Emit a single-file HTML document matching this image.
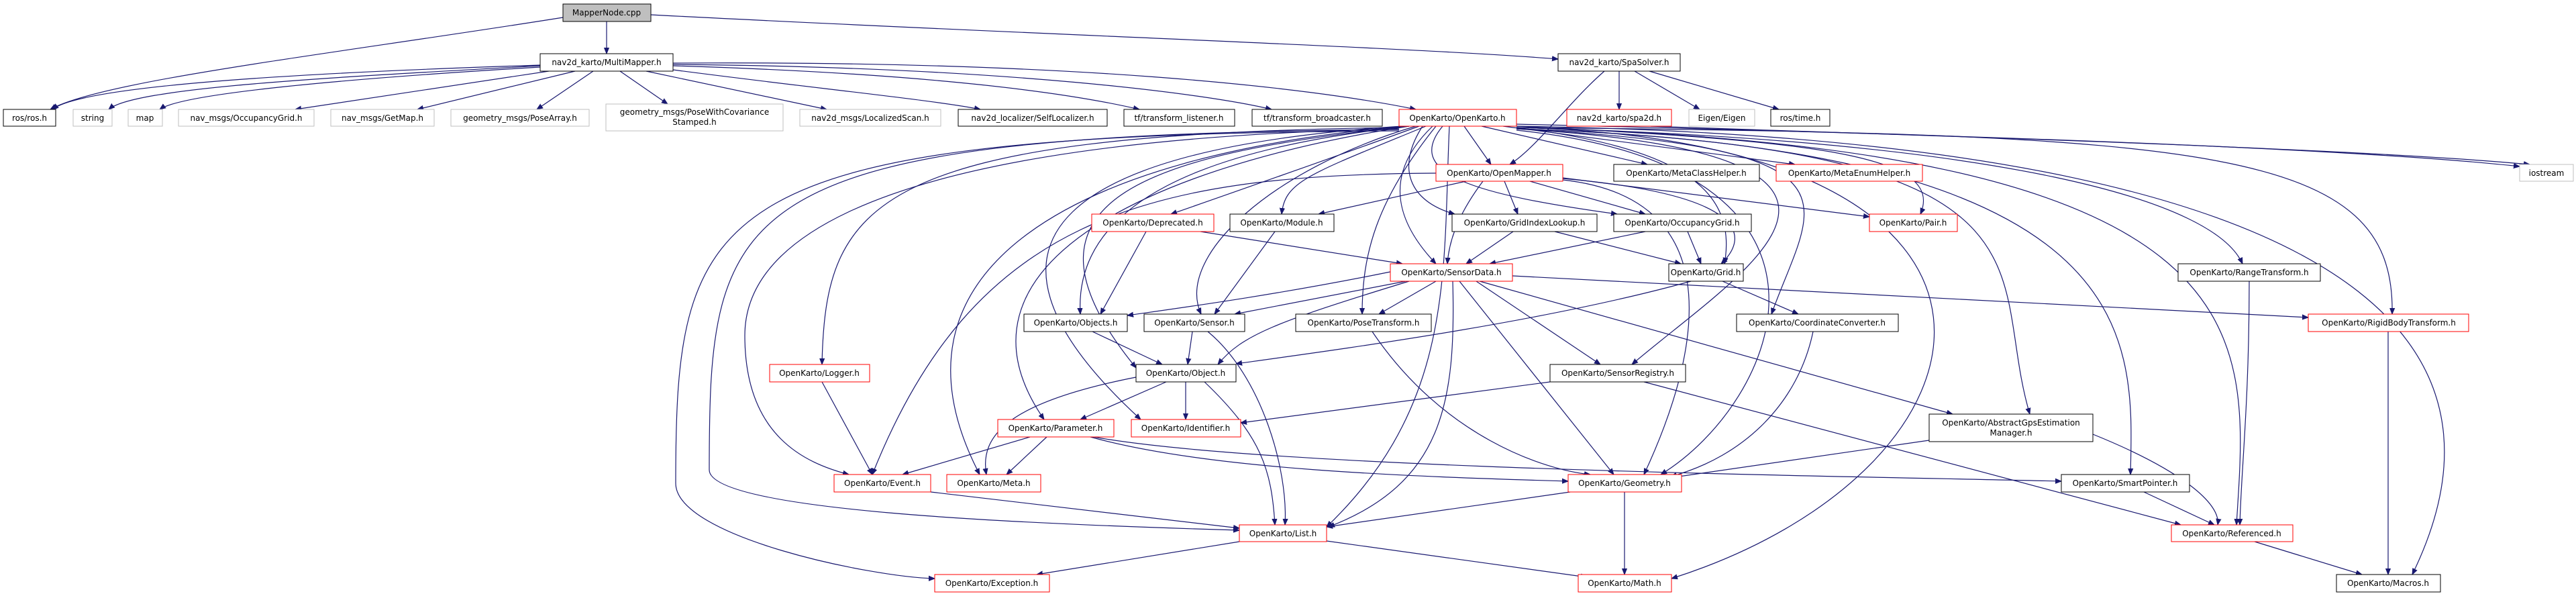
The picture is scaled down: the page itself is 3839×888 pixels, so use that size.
<!DOCTYPE html>
<html><head><meta charset="utf-8"><style>
html,body{margin:0;padding:0;background:#fff;}
svg{display:block;}
text{font-family:"DejaVu Sans","Liberation Sans",sans-serif;font-size:12px;fill:#000;}
.e{fill:none;stroke:#191970;stroke-width:1.2;}
.b{fill:#fff;stroke:#000;stroke-width:1;}
.r{fill:#fff;stroke:#ff0000;stroke-width:1;}
.g{fill:#fff;stroke:#bfbfbf;stroke-width:1;}
</style></head><body>
<svg width="3839" height="888" viewBox="0 0 3839 888" xmlns="http://www.w3.org/2000/svg">
<defs><marker id="a" viewBox="0 0 10 10" refX="10" refY="5" markerWidth="9" markerHeight="9" markerUnits="userSpaceOnUse" orient="auto"><path d="M0,1 L10,5 L0,9 z" fill="#191970" stroke="#191970"/></marker></defs>
<g class="e" marker-end="url(#a)">
<path d="M839,26 C500,80 150,120 75,163"/>
<path d="M904,32 L904,80"/>
<path d="M970,22 C1500,50 2100,70 2322,88"/>
<path d="M805,97 C400,110 120,130 78,163"/>
<path d="M805,98 C500,115 200,130 162,163"/>
<path d="M805,100 C500,118 270,140 238,163"/>
<path d="M818,106 L440,163"/>
<path d="M857,106 L622,163"/>
<path d="M884,106 L800,163"/>
<path d="M924,106 L995,155"/>
<path d="M963,106 L1232,163"/>
<path d="M1003,104 C1200,130 1400,150 1461,163"/>
<path d="M1003,98 C1400,110 1600,140 1698,163"/>
<path d="M1003,96 C1500,100 1800,140 1895,163"/>
<path d="M1003,94 C1600,90 1950,130 2110,163"/>
<path d="M2391,106 C2340,150 2290,220 2250,245"/>
<path d="M2413,106 L2413,163"/>
<path d="M2436,106 L2533,163"/>
<path d="M2458,106 L2651,163"/>
<path d="M2460,188 C2800,200 3500,220 3770,245"/>
<path d="M2182,188 L2222,245"/>
<path d="M2208,188 L2455,245"/>
<path d="M2240,188 L2675,245"/>
<path d="M2260,185 C2900,200 3500,220 3755,248"/>
<path d="M2260,188 C2700,210 2900,230 2862,319"/>
<path d="M2115,188 C2000,230 1800,300 1745,319"/>
<path d="M2125,188 C1950,260 1915,270 1910,319"/>
<path d="M2120,188 C2080,250 2100,300 2168,319"/>
<path d="M2150,188 C2090,260 2200,290 2410,319"/>
<path d="M2135,188 C2060,260 2080,330 2140,393"/>
<path d="M2260,190 C2500,220 2590,280 2570,393"/>
<path d="M2100,188 C1800,220 1600,300 1610,468"/>
<path d="M2110,188 C1900,250 1750,380 1790,468"/>
<path d="M2140,188 C2050,300 2030,380 2030,468"/>
<path d="M2100,188 C1700,230 1490,300 1693,548"/>
<path d="M2260,192 C2800,220 2700,300 2640,468"/>
<path d="M2260,190 C3300,200 3570,220 3565,468"/>
<path d="M2260,190 C3000,210 3300,300 3342,393"/>
<path d="M2260,192 C2900,230 2600,400 2432,543"/>
<path d="M2260,192 C3100,220 2960,400 3025,617"/>
<path d="M2260,192 C3200,220 3180,500 3175,707"/>
<path d="M2260,190 C3400,220 3350,500 3333,782"/>
<path d="M2260,188 C3700,210 3720,600 3595,856"/>
<path d="M2260,194 C2800,250 2650,600 2475,707"/>
<path d="M2260,190 C3100,210 3000,700 2491,862"/>
<path d="M2085,190 C1300,200 1230,300 1225,543"/>
<path d="M2085,192 C1200,210 1110,400 1110,500 C1110,650 1200,690 1265,707"/>
<path d="M2095,188 C1600,230 1300,400 1460,707"/>
<path d="M2100,188 C1700,250 1400,400 1556,625"/>
<path d="M2090,188 C1600,220 1400,350 1700,625"/>
<path d="M2160,188 C2150,400 2170,600 1977,785"/>
<path d="M2085,193 C1080,200 1057,300 1057,700 C1057,760 1500,780 1847,790"/>
<path d="M2085,195 C1050,200 1007,300 1007,720 C1007,800 1300,860 1393,862"/>
<path d="M2140,258 C1700,260 1450,330 1300,707"/>
<path d="M2185,270 L1965,319"/>
<path d="M2210,270 C2180,310 2160,350 2157,393"/>
<path d="M2242,270 L2262,319"/>
<path d="M2280,270 L2452,319"/>
<path d="M2329,265 L2786,323"/>
<path d="M2329,266 C2600,290 2610,350 2565,393"/>
<path d="M2329,268 C2620,300 2500,600 2450,707"/>
<path d="M1708,345 L1640,468"/>
<path d="M1789,345 L2090,393"/>
<path d="M1900,345 L1810,468"/>
<path d="M2255,345 L2185,393"/>
<path d="M2317,345 L2505,393"/>
<path d="M2452,345 L2220,393"/>
<path d="M2515,345 L2535,393"/>
<path d="M2072,405 C1900,440 1750,460 1680,470"/>
<path d="M2095,419 L1840,468"/>
<path d="M2100,419 C1900,480 1850,500 1815,543"/>
<path d="M2140,419 L2055,468"/>
<path d="M2200,419 L2385,543"/>
<path d="M2175,419 L2405,707"/>
<path d="M2165,419 C2170,600 2150,720 1980,785"/>
<path d="M2205,419 L2910,617"/>
<path d="M2254,411 L3440,473"/>
<path d="M2520,419 C2300,480 2000,520 1842,542"/>
<path d="M2567,419 L2680,468"/>
<path d="M1628,494 L1732,543"/>
<path d="M1777,494 L1770,543"/>
<path d="M1800,494 C1880,560 1920,700 1915,782"/>
<path d="M2045,494 C2150,650 2300,700 2370,707"/>
<path d="M2702,494 C2680,600 2600,680 2490,710"/>
<path d="M3352,419 C3352,600 3340,700 3338,782"/>
<path d="M3559,494 L3559,856"/>
<path d="M1738,569 L1610,625"/>
<path d="M1767,569 L1767,625"/>
<path d="M1693,562 C1500,600 1460,650 1470,707"/>
<path d="M1795,569 C1880,650 1895,700 1900,782"/>
<path d="M2310,569 L1849,630"/>
<path d="M2450,569 L3250,782"/>
<path d="M1225,569 L1300,707"/>
<path d="M1535,651 L1345,707"/>
<path d="M1560,651 L1500,707"/>
<path d="M1625,651 C1800,700 2100,710 2337,717"/>
<path d="M1630,651 C1900,700 2800,710 3072,717"/>
<path d="M1387,733 L1847,787"/>
<path d="M2340,733 L1977,785"/>
<path d="M2421,733 L2421,856"/>
<path d="M1847,807 L1545,856"/>
<path d="M1977,806 L2365,860"/>
<path d="M2875,656 L2495,711"/>
<path d="M3119,647 C3250,700 3310,750 3305,782"/>
<path d="M3195,733 L3300,782"/>
<path d="M3360,807 L3520,856"/>
</g>
<g text-anchor="middle">
<rect x="839" y="6" width="131" height="26" fill="#bfbfbf" stroke="#000"/><text x="904" y="23">MapperNode.cpp</text>
<rect class="b" x="805" y="80" width="198" height="26"/><text x="904" y="97">nav2d_karto/MultiMapper.h</text>
<rect class="b" x="2322" y="80" width="182" height="26"/><text x="2413" y="97">nav2d_karto/SpaSolver.h</text>
<rect class="b" x="5" y="163" width="78" height="25"/><text x="44" y="180">ros/ros.h</text>
<rect class="g" x="109" y="163" width="58" height="25"/><text x="138" y="180">string</text>
<rect class="g" x="191" y="163" width="51" height="25"/><text x="216" y="180">map</text>
<rect class="g" x="266" y="163" width="202" height="25"/><text x="367" y="180">nav_msgs/OccupancyGrid.h</text>
<rect class="g" x="493" y="163" width="154" height="25"/><text x="570" y="180">nav_msgs/GetMap.h</text>
<rect class="g" x="672" y="163" width="206" height="25"/><text x="775" y="180">geometry_msgs/PoseArray.h</text>
<rect class="g" x="903" y="155" width="264" height="40"/><text x="1035" y="171">geometry_msgs/PoseWithCovariance</text><text x="1035" y="186">Stamped.h</text>
<rect class="g" x="1192" y="163" width="210" height="25"/><text x="1297" y="180">nav2d_msgs/LocalizedScan.h</text>
<rect class="b" x="1428" y="163" width="222" height="25"/><text x="1539" y="180">nav2d_localizer/SelfLocalizer.h</text>
<rect class="b" x="1675" y="163" width="165" height="25"/><text x="1757" y="180">tf/transform_listener.h</text>
<rect class="b" x="1866" y="163" width="194" height="25"/><text x="1963" y="180">tf/transform_broadcaster.h</text>
<rect class="r" x="2085" y="163" width="175" height="25"/><text x="2172" y="180">OpenKarto/OpenKarto.h</text>
<rect class="r" x="2335" y="163" width="156" height="25"/><text x="2413" y="180">nav2d_karto/spa2d.h</text>
<rect class="g" x="2517" y="163" width="98" height="25"/><text x="2566" y="180">Eigen/Eigen</text>
<rect class="b" x="2639" y="163" width="88" height="25"/><text x="2683" y="180">ros/time.h</text>
<rect class="r" x="2140" y="245" width="189" height="25"/><text x="2234" y="262">OpenKarto/OpenMapper.h</text>
<rect class="b" x="2405" y="245" width="217" height="25"/><text x="2513" y="262">OpenKarto/MetaClassHelper.h</text>
<rect class="r" x="2647" y="245" width="218" height="25"/><text x="2756" y="262">OpenKarto/MetaEnumHelper.h</text>
<rect class="g" x="3755" y="245" width="80" height="25"/><text x="3795" y="262">iostream</text>
<rect class="r" x="1627" y="319" width="182" height="26"/><text x="1718" y="336">OpenKarto/Deprecated.h</text>
<rect class="b" x="1833" y="319" width="155" height="26"/><text x="1910" y="336">OpenKarto/Module.h</text>
<rect class="b" x="2164" y="319" width="216" height="26"/><text x="2272" y="336">OpenKarto/GridIndexLookup.h</text>
<rect class="b" x="2405" y="319" width="205" height="26"/><text x="2507" y="336">OpenKarto/OccupancyGrid.h</text>
<rect class="r" x="2786" y="319" width="131" height="26"/><text x="2851" y="336">OpenKarto/Pair.h</text>
<rect class="r" x="2072" y="393" width="182" height="26"/><text x="2163" y="410">OpenKarto/SensorData.h</text>
<rect class="b" x="2487" y="393" width="111" height="26"/><text x="2542" y="410">OpenKarto/Grid.h</text>
<rect class="b" x="3246" y="393" width="212" height="26"/><text x="3352" y="410">OpenKarto/RangeTransform.h</text>
<rect class="b" x="1526" y="468" width="154" height="26"/><text x="1603" y="485">OpenKarto/Objects.h</text>
<rect class="b" x="1705" y="468" width="150" height="26"/><text x="1780" y="485">OpenKarto/Sensor.h</text>
<rect class="b" x="1931" y="468" width="202" height="26"/><text x="2032" y="485">OpenKarto/PoseTransform.h</text>
<rect class="b" x="2588" y="468" width="241" height="26"/><text x="2708" y="485">OpenKarto/CoordinateConverter.h</text>
<rect class="r" x="3440" y="468" width="239" height="26"/><text x="3560" y="485">OpenKarto/RigidBodyTransform.h</text>
<rect class="r" x="1147" y="543" width="149" height="26"/><text x="1221" y="560">OpenKarto/Logger.h</text>
<rect class="b" x="1693" y="543" width="149" height="26"/><text x="1767" y="560">OpenKarto/Object.h</text>
<rect class="b" x="2310" y="543" width="202" height="26"/><text x="2411" y="560">OpenKarto/SensorRegistry.h</text>
<rect class="b" x="2875" y="617" width="244" height="41"/><text x="2997" y="634">OpenKarto/AbstractGpsEstimation</text><text x="2997" y="649">Manager.h</text>
<rect class="r" x="1487" y="625" width="173" height="26"/><text x="1573" y="642">OpenKarto/Parameter.h</text>
<rect class="r" x="1686" y="625" width="163" height="26"/><text x="1767" y="642">OpenKarto/Identifier.h</text>
<rect class="r" x="1243" y="707" width="144" height="26"/><text x="1315" y="724">OpenKarto/Event.h</text>
<rect class="r" x="1411" y="707" width="140" height="26"/><text x="1481" y="724">OpenKarto/Meta.h</text>
<rect class="r" x="2337" y="707" width="169" height="26"/><text x="2421" y="724">OpenKarto/Geometry.h</text>
<rect class="b" x="3072" y="707" width="191" height="26"/><text x="3167" y="724">OpenKarto/SmartPointer.h</text>
<rect class="r" x="1847" y="782" width="130" height="25"/><text x="1912" y="799">OpenKarto/List.h</text>
<rect class="r" x="3236" y="782" width="181" height="25"/><text x="3326" y="799">OpenKarto/Referenced.h</text>
<rect class="r" x="1393" y="856" width="171" height="26"/><text x="1478" y="873">OpenKarto/Exception.h</text>
<rect class="r" x="2352" y="856" width="139" height="26"/><text x="2421" y="873">OpenKarto/Math.h</text>
<rect class="b" x="3482" y="856" width="155" height="26"/><text x="3559" y="873">OpenKarto/Macros.h</text>
</g>
</svg>
</body></html>
